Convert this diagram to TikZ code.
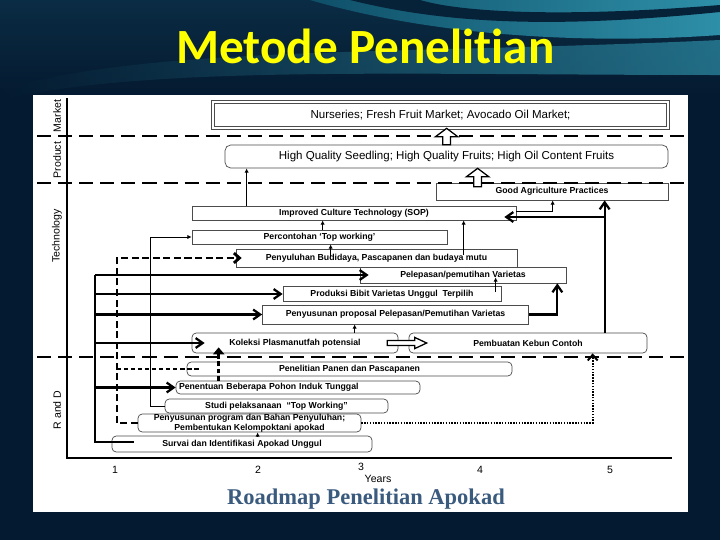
\documentclass[tikz,border=0pt]{standalone}
\usepackage{fontspec}
\setsansfont{Liberation Sans}
\newfontfamily\titlefont[Ligatures=NoCommon]{Carlito}
\newfontfamily\capfont{Liberation Serif}
\usepackage{tikz}
\usetikzlibrary{arrows.meta,calc}
\newlength\pxu
\setlength\pxu{0.025cm}
\definecolor{bgnavy}{HTML}{041A30}
\definecolor{wavetop}{HTML}{0A2C44}
\definecolor{wavemid}{HTML}{0F4F68}
\definecolor{wavebright}{HTML}{2E8FA8}
\definecolor{titleyellow}{HTML}{FFFF00}
\definecolor{capblue}{HTML}{3A5A7E}

\begin{document}
\begin{tikzpicture}[x=0.025cm, y=-0.025cm,
  box/.style={draw=black!70, fill=white, line width=0.5pt, inner sep=0pt, align=center,
    font=\sffamily\bfseries\fontsize{6.2}{7}\selectfont},
  rbox/.style={box, rounded corners=3pt},
  bigtxt/.style={font=\sffamily\fontsize{8.2}{9}\selectfont},
  wh/.style 2 args={minimum width=#1\pxu, minimum height=#2\pxu},
  axlbl/.style={rotate=90, font=\sffamily\fontsize{7.5}{8}\selectfont},
  yearlbl/.style={font=\sffamily\fontsize{7.5}{8}\selectfont},
  sep/.style={line width=1.3pt, dash pattern=on 10pt off 5pt},
  axisline/.style={line width=1.4pt},
  trunk/.style={line width=1.6pt},
  arrow/.style={line width=1.6pt, -{Straight Barb[length=5pt,width=7pt]}},
  thinarrow/.style={line width=0.6pt, -{Latex[length=3pt,width=3pt]}},
  dasharrow/.style={line width=2pt, dash pattern=on 5pt off 2.5pt, -{Straight Barb[length=4pt,width=7pt]}},
  dashthin/.style={line width=1.2pt, dash pattern=on 3pt off 2pt},
  dashup/.style={line width=2.4pt, dash pattern=on 3.5pt off 1.6pt, -{Triangle[length=5pt,width=8pt]}},
  dotarrow/.style={line width=1.4pt, dash pattern=on 1pt off 1pt, -{Straight Barb[length=4pt,width=7pt]}},
  blockup/.style={draw=black, line width=0.9pt, fill=white,
    to path={let \p1=(\tikztostart), \p2=(\tikztotarget) in
      (\x1-2.8pt,\y1) -- (\x1-2.8pt,\y2-6pt) -- (\x1-8pt,\y2-6pt) -- (\x1,\y2)
      -- (\x1+8pt,\y2-6pt) -- (\x1+2.8pt,\y2-6pt) -- (\x1+2.8pt,\y1) -- cycle}},
  blockright/.style={draw=black, line width=0.9pt, fill=white,
    to path={let \p1=(\tikztostart), \p2=(\tikztotarget) in
      (\x1,\y1+1.8pt) -- (\x2-8.5pt,\y1+1.8pt) -- (\x2-8.5pt,\y1+4pt) -- (\x2,\y1)
      -- (\x2-8.5pt,\y1-4pt) -- (\x2-8.5pt,\y1-1.8pt) -- (\x1,\y1-1.8pt) -- cycle}}
]
\useasboundingbox (0,0) rectangle (720,540);
% slide background
\fill[bgnavy] (0,0) rectangle (720,540);
\shade[top color=wavetop, bottom color=bgnavy] (0,0) rectangle (720,95);
\shade[left color=wavemid, right color=wavebright] (310,0) .. controls (430,35) and (580,45) .. (720,35) -- (720,0) -- cycle;
\fill[bgnavy!85!wavemid] (350,0) .. controls (450,25) and (560,28) .. (720,12) -- (720,5) .. controls (560,18) and (460,12) .. (420,0) -- cycle;
\shade[left color=bgnavy, right color=wavebright, opacity=.7] (0,90) .. controls (150,45) and (400,55) .. (720,40) -- (720,75) .. controls (400,75) and (150,65) .. (0,100) -- cycle;
\node[font=\titlefont\bfseries\fontsize{35}{40}\selectfont, text=titleyellow, anchor=base] (title) at (365.5,63) {Metode Penelitian};
\fill[white] (33,95) rectangle (688,512);

% axes
\draw[axisline] (67,98) -- (67,458) -- (672,458);
\node[axlbl] (lmkt) at (57,116) {Market};
\node[axlbl] (lprod) at (57,160) {Product};
\node[axlbl] (ltech) at (57,236) {Technology};
\node[axlbl] (lrnd) at (57,410) {R and D};
\foreach \n/\xx in {1/115,2/258,4/480,5/610}
  \node[yearlbl] (yr\n) at (\xx,470) {\n};
\node[yearlbl] (yr3) at (361,467) {3};
\node[yearlbl] (years) at (378,479) {Years};
\node[font=\capfont\bfseries\fontsize{16}{18}\selectfont, text=capblue, anchor=base] (caption) at (366,504) {Roadmap Penelitian Apokad};

% boxes
\node[box, double, double distance=1.6pt, bigtxt, wh={455}{26}] (mkt) at (440.5,115) {Nurseries; Fresh Fruit Market; Avocado Oil Market;};
\node[box, rounded corners=4pt, bigtxt, wh={443}{23}] (prod) at (446.5,156.5) {High Quality Seedling; High Quality Fruits; High Oil Content Fruits};
\node[box, wh={232}{17}] (gap) at (552,191.5) {Good Agriculture Practices};
\node[box, wh={324}{14}] (ict) at (354,213) {Improved Culture Technology (SOP)};
\node[box, wh={255}{14}] (pct) at (319.5,237) {Percontohan ‘Top working’};
\node[box, wh={281}{18}] (pyb) at (376.5,258) {Penyuluhan Budidaya, Pascapanen\ dan budaya mutu};
\node[box, wh={206}{16}] (plp) at (463,275) {Pelepasan/pemutihan Varietas};
\node[box, wh={218}{15}] (pbv) at (392,294) {Produksi Bibit Varietas Unggul\ \ Terpilih};
\node[box, wh={266}{19}] (ppp) at (395.5,314.5) {Penyusunan proposal Pelepasan/Pemutihan Varietas};
\node[rbox, wh={206}{20}] (kpl) at (295,343) {Koleksi Plasmanutfah potensial};
\node[rbox, wh={238}{20}] (pkc) at (528,343) {Pembuatan Kebun Contoh};
\node[rbox, wh={325}{14}] (ppn) at (349.5,369) {Penelitian Panen dan Pascapanen};
\node[rbox, wh={244}{13}, inner xsep=3\pxu, text width=238\pxu, align=left] (pbp) at (298,387.5) {Penentuan Beberapa Pohon Induk Tunggal};
\node[rbox, wh={223}{14}] (spt) at (276.5,406) {Studi pelaksanaan\ \ “Top Working”};
\node[rbox, wh={223}{18}] (ppb) at (249.5,423) {Penyusunan program dan Bahan Penyuluhan;\\Pembentukan Kelompoktani apokad};
\node[rbox, wh={260}{16}] (sia) at (242,444) {Survai dan Identifikasi Apokad Unggul};

\draw[sep] (37,136) -- (688,136);
\draw[sep] (37,183) -- (688,183);
\draw[sep] (37,357) -- (688,357);

% connectors
\draw[blockup] ($(prod.north west)+(222,0)$) coordinate (b1) to (b1 |- mkt.south);
\draw[blockup] ($(gap.north west)+(42,4)$) coordinate (b2) to (b2 |- prod.south);
\draw[blockright] ($(kpl.east)+(-11,0)$) to ($(pkc.west)+(18,0)$);

\draw[thinarrow] ($(ict.north west)+(55,0)$) coordinate (t1) -- (t1 |- prod.south);
\draw[thinarrow] ($(pct.north west)+(131,0)$) coordinate (t2) -- (t2 |- ict.south);
\draw[thinarrow] ($(pyb.north west)+(95,8)$) coordinate (t3) -- (t3 |- pct.south);
\draw[thinarrow] ($(pyb.north west)+(228,6)$) coordinate (t4) -- (t4 |- ict.south);
\draw[thinarrow] ($(pbv.north west)+(213,6)$) coordinate (t5) -- ($(t5 |- plp.south)+(0,-6)$);
\draw[thinarrow] ($(kpl.north west)+(163,0)$) coordinate (t6) -- (t6 |- ppp.south);
\draw[thinarrow] ($(sia.north west)+(146,0)$) coordinate (t7) -- (t7 |- ppb.south);
\draw[thinarrow] ($(ict.east)+(0,-2)$) -| ($(gap.south west)+(117,0)$);

\draw[arrow] ($(pkc.north west)+(196,0)$) coordinate (t8) -- (t8 |- gap.south);
\coordinate (ie) at ($(ict.east)+(0,4)$);
\draw[arrow] (t8 |- ie) -- ($(ie)+(-12,0)$);
\draw[arrow] (ppp.east) -| ($(plp.south east)+(-9,0)$);
\draw[dotarrow] (ppb.east) -| ($(pkc.south west)+(184,0)$);
\draw[dashup] ($(pbp.north west)+(43,0)$) coordinate (t9) -- ($(t9 |- kpl.south)+(0,-6)$);

\coordinate (sb) at (95,0);
\draw[trunk] ($(sia.west)+(22,-2)$) -| (sb |- plp.west);
\draw[arrow] (sb |- plp.west) -- ($(plp.west)+(9,0)$);
\draw[arrow] (sb |- pbv.west) -- (pbv.west);
\draw[arrow] (sb |- ppp.west) -- (ppp.west);
\draw[arrow] (sb |- kpl.west) -- ($(kpl.west)+(13,0)$);
\draw[arrow] (sb |- pbp.west) -- (pbp.west);

\coordinate (db) at (117,0);
\draw[dasharrow] (ppb.west) -| (db |- pyb.west) -- ($(pyb.west)+(6,0)$);
\draw[dashthin] (db |- ppn.west) -- ($(ppn.west)+(12,0)$);

\coordinate (tb) at (150,0);
\draw[thinarrow] (spt.west) -| (tb |- pct.west) -- (pct.west);
\end{tikzpicture}
\end{document}
